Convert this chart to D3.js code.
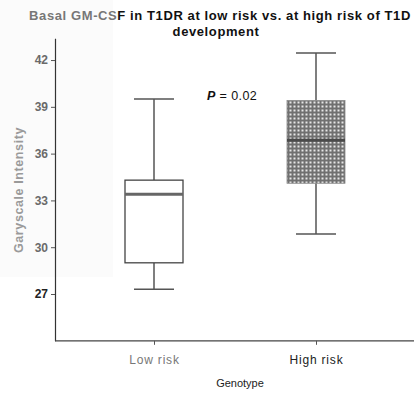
<!DOCTYPE html>
<html>
<head>
<meta charset="utf-8">
<script src="https://cdn.jsdelivr.net/npm/d3@7"></script>
<style>
  html, body { margin: 0; padding: 0; background: #fff; }
  svg { display: block; font-family: "Liberation Sans", Arial, sans-serif; }
</style>
</head>
<body>
<svg id="chart" width="414" height="393"></svg>
<script>
// Genotype groups and their box-plot summaries (greyscale intensity)
const categories = ["Low risk", "High risk"];
const whiskerLow = [27.3, 30.85];
const q1 = [29.0, 34.1];
const median = [33.4, 36.85];
const q3 = [34.3, 39.4];
const whiskerHigh = [39.5, 42.45];
const yTicks = [27, 30, 33, 36, 39, 42];
const pLabel = "0.02";

const svg = d3.select("#chart");

// faint pale panel behind the left labels
svg.append("rect").attr("x", 0).attr("y", 0).attr("width", 113).attr("height", 277)
  .attr("fill", "#fbfbfb");

const y = d3.scaleLinear().domain([24, 43.4]).range([340.8, 38.2]);
const x = d3.scalePoint().domain(categories).range([154, 316]);
const boxW = 58;

// checkered fill for the high-risk box
const defs = svg.append("defs");
const pat = defs.append("pattern").attr("id", "checker")
  .attr("patternUnits", "userSpaceOnUse").attr("width", 4).attr("height", 4);
pat.append("rect").attr("width", 4).attr("height", 4).attr("fill", "#707070");
pat.append("rect").attr("x", 1.5).attr("y", 1.5).attr("width", 2).attr("height", 2).attr("fill", "#e6e6e6");

// Title
const title = svg.append("text").attr("text-anchor", "middle")
  .attr("font-size", 13).attr("font-weight", "bold").attr("letter-spacing", 0.6).attr("fill", "#111");
const line1 = title.append("tspan").attr("x", 220).attr("y", 20);
line1.append("tspan").attr("fill", "#777").text("Basal GM-CS");
line1.append("tspan").text("F in T1DR at low risk vs. at high risk of T1D");
title.append("tspan").attr("x", 216).attr("y", 36).text("development");

// Y axis
const yAxis = d3.axisLeft(y).tickValues(yTicks).tickSize(4).tickSizeOuter(0).tickPadding(3);
const gy = svg.append("g").attr("transform", "translate(55,0)").call(yAxis);
gy.select(".domain").attr("stroke", "#333").attr("stroke-width", 1.2);
gy.selectAll(".tick line").attr("stroke", "#555");
gy.selectAll(".tick text").attr("font-size", 12).attr("font-weight", "bold")
  .attr("font-family", "Liberation Sans, Arial, sans-serif")
  .attr("fill", d => d === 27 ? "#222" : "#6a6a6a");

// X axis
const xAxis = d3.axisBottom(x).tickSize(4).tickSizeOuter(0).tickPadding(11);
const gx = svg.append("g").attr("transform", "translate(0,340.8)").call(xAxis);
gx.select(".domain").attr("d", "M55,0H414").attr("stroke", "#444").attr("stroke-width", 1.2);
gx.selectAll(".tick line").attr("stroke", "#555");
gx.selectAll(".tick text").attr("font-size", 12).attr("letter-spacing", 0.8)
  .attr("font-family", "Liberation Sans, Arial, sans-serif")
  .attr("fill", (d, i) => i === 0 ? "#777" : "#222");

// axis titles
svg.append("text").attr("transform", "translate(23,190) rotate(-90)")
  .attr("text-anchor", "middle").attr("font-size", 12.5).attr("font-weight", "bold")
  .attr("letter-spacing", 0.6).attr("fill", "#9a9a9a").text("Garyscale Intensity");
svg.append("text").attr("x", 240).attr("y", 387).attr("text-anchor", "middle")
  .attr("font-size", 11).attr("fill", "#222").text("Genotype");

// box plots
const data = categories.map((c, i) => ({
  c, lo: whiskerLow[i], q1: q1[i], med: median[i], q3: q3[i], hi: whiskerHigh[i], i
}));
const g = svg.selectAll(".box").data(data).join("g").attr("class", "box");
g.append("line").attr("x1", d => x(d.c)).attr("x2", d => x(d.c))
  .attr("y1", d => y(d.hi)).attr("y2", d => y(d.q3)).attr("stroke", "#555").attr("stroke-width", 1.5);
g.append("line").attr("x1", d => x(d.c)).attr("x2", d => x(d.c))
  .attr("y1", d => y(d.q1)).attr("y2", d => y(d.lo)).attr("stroke", "#555").attr("stroke-width", 1.5);
g.append("line").attr("x1", d => x(d.c) - 20).attr("x2", d => x(d.c) + 20)
  .attr("y1", d => y(d.hi)).attr("y2", d => y(d.hi)).attr("stroke", "#555").attr("stroke-width", 1.5);
g.append("line").attr("x1", d => x(d.c) - 20).attr("x2", d => x(d.c) + 20)
  .attr("y1", d => y(d.lo)).attr("y2", d => y(d.lo)).attr("stroke", "#555").attr("stroke-width", 1.5);
g.append("rect").attr("x", d => x(d.c) - boxW / 2).attr("width", boxW)
  .attr("y", d => y(d.q3)).attr("height", d => y(d.q1) - y(d.q3))
  .attr("fill", d => d.i === 1 ? "url(#checker)" : "#fff")
  .attr("stroke", d => d.i === 1 ? "#888" : "#444").attr("stroke-width", d => d.i === 1 ? 0.8 : 1.3);
g.append("line").attr("x1", d => x(d.c) - boxW / 2).attr("x2", d => x(d.c) + boxW / 2)
  .attr("y1", d => y(d.med)).attr("y2", d => y(d.med))
  .attr("stroke", d => d.i === 1 ? "#4a4a4a" : "#666").attr("stroke-width", 3);

// significance annotation
const p = svg.append("text").attr("x", 207).attr("y", 100).attr("font-size", 12.5)
  .attr("letter-spacing", 0.4).attr("fill", "#111");
p.append("tspan").attr("font-style", "italic").attr("font-weight", "bold").text("P");
p.append("tspan").text(" = " + pLabel);
</script>
</body>
</html>
